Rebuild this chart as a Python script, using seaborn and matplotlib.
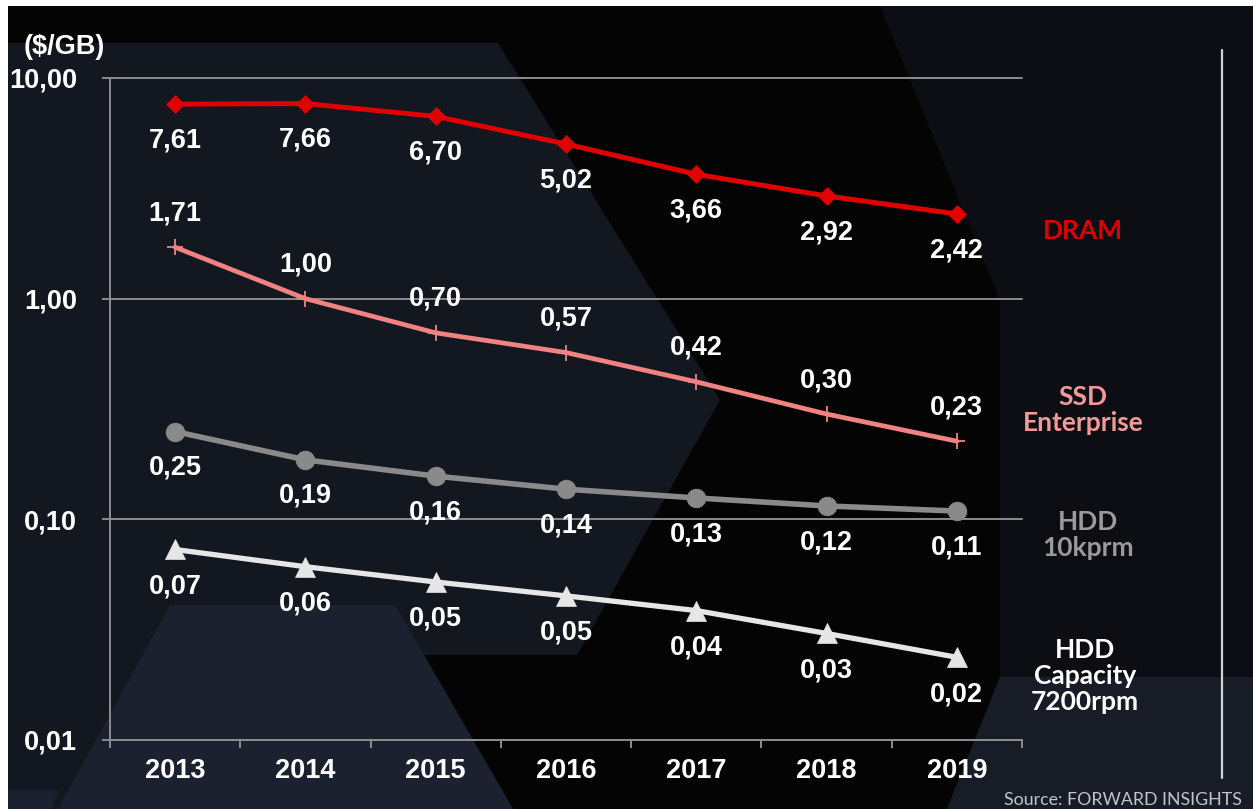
import numpy as np
import pandas as pd
import matplotlib
matplotlib.use("Agg")
import matplotlib.pyplot as plt
import seaborn as sns
from matplotlib.patches import Polygon
from matplotlib.lines import Line2D
from matplotlib.ticker import FixedLocator, FixedFormatter, NullLocator

# ---------------- data ----------------
years = ["2013", "2014", "2015", "2016", "2017", "2018", "2019"]

dram = [7.61, 7.66, 6.70, 5.02, 3.66, 2.92, 2.42]
dram_labels = ["7,61", "7,66", "6,70", "5,02", "3,66", "2,92", "2,42"]

ssd = [1.71, 1.00, 0.70, 0.57, 0.42, 0.30, 0.226]
ssd_labels = ["1,71", "1,00", "0,70", "0,57", "0,42", "0,30", "0,23"]

hdd10k = [0.25, 0.186, 0.157, 0.137, 0.125, 0.115, 0.109]
hdd10k_labels = ["0,25", "0,19", "0,16", "0,14", "0,13", "0,12", "0,11"]

hddcap = [0.073, 0.061, 0.052, 0.045, 0.0386, 0.0304, 0.0237]
hddcap_labels = ["0,07", "0,06", "0,05", "0,05", "0,04", "0,03", "0,02"]

yticks = [0.01, 0.1, 1, 10]
ytick_labels = ["0,01", "0,10", "1,00", "10,00"]

series_names = ["DRAM", "SSD\nEnterprise", "HDD\n10kprm", "HDD\nCapacity\n7200rpm"]

# ---------------- style ----------------
sns.set_theme(style="ticks")
plt.rcParams["font.family"] = ["Liberation Sans", "DejaVu Sans"]
plt.rcParams["font.weight"] = "bold"

W, H = 1253, 809
fig = plt.figure(figsize=(W / 100, H / 100), dpi=100)
fig.patch.set_facecolor("white")


def P(x, y):
    return (x / W, 1 - y / H)


def poly(pts, color, z=-10):
    fig.add_artist(Polygon([P(*p) for p in pts], closed=True, transform=fig.transFigure,
                           facecolor=color, edgecolor="none", zorder=z))


# background shapes
poly([(8, 6), (W, 6), (W, H), (8, H)], "#13171f", -20)
poly([(880, 6), (W, 6), (W, 677), (1000, 677), (1000, 300)], "#0c0e13", -19)
poly([(8, 6), (880, 6), (1000, 300), (1000, 677), (947, H), (513, H), (424, 655),
      (577, 655), (720, 400), (498, 43), (8, 43)], "#040405", -18)
poly([(1000, 677), (W, 677), (W, H), (947, H)], "#181c26", -17)
poly([(170, 605), (395, 605), (513, H), (58, H)], "#1b212e", -17)
poly([(8, 790), (58, 790), (52, H), (8, H)], "#1b212e", -17)

ax = fig.add_axes([110 / W, 1 - 740 / H, (1022 - 110) / W, (740 - 78) / H])
ax.set_facecolor("none")

x = np.arange(len(years))
grid_c = "#8c8c8c"
FS = 19.5

specs = [
    (dram, dram_labels, "#e00000", "D", 9.5, dict(markeredgecolor="#e00000", markeredgewidth=0.5), 3.6, -26),
    (ssd, ssd_labels, "#f08282", "+", 11.5, dict(markeredgecolor="#f08282", markeredgewidth=1.3), 3.4, 24.5),
    (hdd10k, hdd10k_labels, "#8a8a8a", "o", 13.5, dict(markeredgecolor="#8a8a8a", markeredgewidth=0.5), 4.0, -26),
    (hddcap, hddcap_labels, "#e6e6e6", "^", 14, dict(markeredgecolor="#e6e6e6", markeredgewidth=0.5), 3.8, -26.5),
]

for vals, labs, col, mk, ms, mkw, lw, off in specs:
    df = pd.DataFrame({"x": x, "y": vals})
    sns.lineplot(data=df, x="x", y="y", ax=ax, color=col, marker=mk, markersize=ms,
                 linewidth=lw, legend=False, zorder=5, clip_on=False, **mkw)
    for xi, v, t in zip(x, vals, labs):
        ax.annotate(t, (xi, v), xytext=(0, off), textcoords="offset points",
                    ha="center", va="center", color="white", fontsize=FS,
                    fontweight="bold", zorder=6)

ax.set_yscale("log")
ax.set_ylim(0.01, 10)
ax.set_xlim(-0.5, 6.5)
ax.yaxis.set_major_locator(FixedLocator(yticks))
ax.yaxis.set_major_formatter(FixedFormatter(ytick_labels))
ax.yaxis.set_minor_locator(NullLocator())
ax.set_xticks(x)
ax.set_xticklabels(years)
ax.set_xticks(np.arange(-0.5, 7, 1), minor=True)
ax.set_xlabel("")
ax.set_ylabel("")

ax.tick_params(axis="x", which="major", length=0, pad=13, labelsize=FS, labelcolor="white")
ax.tick_params(axis="x", which="minor", length=6, width=1.4, color=grid_c, direction="out")
ax.tick_params(axis="y", which="major", length=5.5, width=1.4, color=grid_c, pad=18,
               labelsize=FS, labelcolor="white")
for lab in ax.get_xticklabels() + ax.get_yticklabels():
    lab.set_fontweight("bold")

ax.grid(axis="y", which="major", color=grid_c, linewidth=1.4)
ax.grid(axis="x", visible=False)
for gl in ax.yaxis.get_gridlines():
    gl.set_clip_on(False)
for s in ["top", "right"]:
    ax.spines[s].set_visible(False)
for s in ["left", "bottom"]:
    ax.spines[s].set_color(grid_c)
    ax.spines[s].set_linewidth(1.4)

# unit label
fig.text(*P(24, 47), "($/GB)", ha="left", va="center", color="white", fontsize=FS, fontweight="bold")

# series names on the right
name_specs = [
    (series_names[0], "#e00000", 1083, 231),
    (series_names[1], "#f29a9a", 1083, 410),
    (series_names[2], "#9a9a9a", 1088, 535),
    (series_names[3], "white", 1085, 676),
]
for txt, col, px, py in name_specs:
    fig.text(*P(px, py), txt, ha="center", va="center", color=col, fontsize=19,
             fontweight="bold", family=["Lato", "DejaVu Sans"], linespacing=1.1)

# vertical separator line
fig.add_artist(Line2D([1222 / W, 1222 / W], [1 - 50 / H, 1 - 778 / H], transform=fig.transFigure,
                      color="#d4d4d4", linewidth=1.6))

# source
fig.text(*P(1004, 800), "Source: FORWARD INSIGHTS", ha="left", va="center", color="#c4c4c4",
         fontsize=12.8, fontweight="normal", family=["Lato", "DejaVu Sans"])

fig.savefig("out.png", dpi=100, facecolor=fig.get_facecolor())
